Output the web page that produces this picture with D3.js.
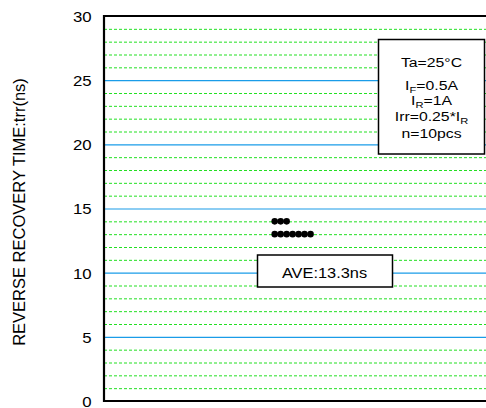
<!DOCTYPE html>
<html><head><meta charset="utf-8">
<script src="https://cdn.jsdelivr.net/npm/d3@7"></script>
<style>body{margin:0;background:#fff}svg{display:block}text{font-family:"Liberation Sans",Arial,sans-serif;fill:#000}</style>
</head><body><svg id="c" width="486" height="408"></svg>
<script>
const samples = [14, 14, 14, 13, 13, 13, 13, 13, 13, 13];
const yTicks = [0, 5, 10, 15, 20, 25, 30];
const minorTicks = d3.range(1, 30).filter(v => v % 5 !== 0);
const yTitle = "REVERSE RECOVERY TIME:trr(ns)";
const aveLabel = "AVE:13.3ns";

const svg = d3.select("#c");
const L = 104, R = 486, T = 16, B = 401;
const SX = 1.17; // horizontal stretch of the reference's type
const y = d3.scaleLinear().domain([0, 30]).range([B, T]);
const x = d3.scaleLinear().domain([0, 64]).range([L, R]);

// minor grid
svg.append("g").selectAll("line").data(minorTicks).join("line")
  .attr("x1", L).attr("x2", R).attr("y1", d => y(d) + 0.5).attr("y2", d => y(d) + 0.5)
  .attr("stroke", "#22e022").attr("stroke-width", 1).attr("stroke-dasharray", "3,2");
// major grid
svg.append("g").selectAll("line").data(yTicks.filter(v => v > 0 && v < 30)).join("line")
  .attr("x1", L).attr("x2", R).attr("y1", d => y(d) + 0.5).attr("y2", d => y(d) + 0.5)
  .attr("stroke", "#1a9ce8").attr("stroke-width", 1.2);

// axis tick labels
const ax = d3.axisLeft(y).tickValues(yTicks).tickSize(0).tickPadding(11);
const gA = svg.append("g").attr("transform", `translate(${L},0)`).call(ax);
gA.select(".domain").remove();
gA.selectAll("text").attr("font-size", 15).attr("font-family", "Liberation Sans, Arial, sans-serif")
  .attr("fill", "#000").attr("transform", `scale(1.12,1)`).attr("dy", "0.36em");

// frame
svg.append("path").attr("d", `M${R},${T}H${L}V${B}H${R}`).attr("fill", "none").attr("stroke", "#000").attr("stroke-width", 2.2);

// dots: stacked per value
const counts = {};
const dots = samples.map(v => { counts[v] = (counts[v] || 0); const k = counts[v]++; return {v, k}; });
svg.append("g").selectAll("circle").data(dots).join("circle")
  .attr("cx", d => x(28.6 + d.k)).attr("cy", d => y(d.v)).attr("r", 3.3).attr("fill", "#000");

// y title
svg.append("text").attr("transform", `translate(25,212) rotate(-90)`).attr("text-anchor", "middle")
  .attr("font-size", 16.5).text(yTitle);

function stext(g, cx, by) {
  return g.append("text").attr("transform", `translate(${cx},${by}) scale(${SX},1)`)
    .attr("text-anchor", "middle").attr("font-size", 13.5);
}

// legend box
svg.append("rect").attr("x", 378.5).attr("y", 39.5).attr("width", 106).attr("height", 114.5)
  .attr("fill", "#fff").attr("stroke", "#000").attr("stroke-width", 1.5);
const lg = svg.append("g");
const cx = 431.5;
stext(lg, cx, 67).text("Ta=25°C");
let t = stext(lg, cx, 89.5);
t.append("tspan").text("I"); t.append("tspan").attr("font-size", 9.5).attr("dy", 3).text("F"); t.append("tspan").attr("dy", -3).text("=0.5A");
t = stext(lg, cx, 104.5);
t.append("tspan").text("I"); t.append("tspan").attr("font-size", 9.5).attr("dy", 3).text("R"); t.append("tspan").attr("dy", -3).text("=1A");
t = stext(lg, cx, 121);
t.append("tspan").text("Irr=0.25*I"); t.append("tspan").attr("font-size", 9.5).attr("dy", 3).text("R");
stext(lg, cx, 137.5).text("n=10pcs");

// AVE box
svg.append("rect").attr("x", 257.5).attr("y", 255).attr("width", 135).attr("height", 32)
  .attr("fill", "#fff").attr("stroke", "#000").attr("stroke-width", 1.5);
stext(svg, 324.5, 278).attr("font-size", 14).text(aveLabel);
</script></body></html>
